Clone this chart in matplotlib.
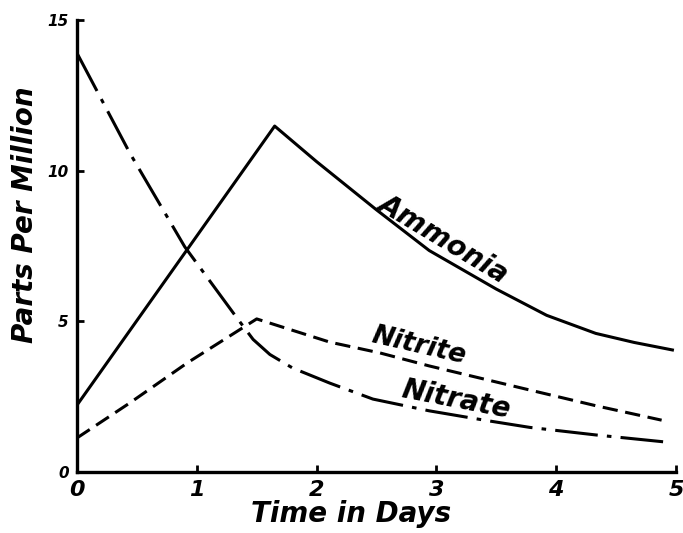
import matplotlib
matplotlib.use("Agg")
import matplotlib.pyplot as plt

# Data
ammonia_x = [0.0, 1.65, 2.0, 2.5, 2.94, 3.5, 3.92, 4.33, 4.65, 4.97]
ammonia_y = [2.22, 11.48, 10.3, 8.7, 7.35, 6.07, 5.2, 4.6, 4.3, 4.05]

nitrite_x = [0.0, 0.44, 0.92, 1.5, 2.11, 2.53, 2.94, 3.78, 4.33, 4.88]
nitrite_y = [1.13, 2.29, 3.62, 5.08, 4.31, 3.95, 3.52, 2.72, 2.2, 1.72]

nitrate_x = [0.0, 0.44, 0.9, 1.33, 1.47, 1.61, 1.8, 2.11, 2.47, 2.94, 3.4, 3.78, 4.33, 4.95]
nitrate_y = [13.9, 10.59, 7.47, 5.14, 4.4, 3.9, 3.45, 2.95, 2.42, 2.03, 1.72, 1.48, 1.23, 0.98]

x_ticks = [0, 1, 2, 3, 4, 5]
x_ticklabels = ["0", "1", "2", "3", "4", "5"]
y_ticks = [0, 5, 10, 15]
y_ticklabels = ["0", "5", "10", "15"]

FONT = dict(family="DejaVu Sans", weight="bold", style="italic")

fig = plt.figure(figsize=(6.83, 5.33), dpi=100)
W, H = 683, 533
left, right, bottom, top = 77, 676, 472, 20
ax = fig.add_axes([left / W, 1 - bottom / H, (right - left) / W, (bottom - top) / H])

lw = 2.2
ax.plot(ammonia_x, ammonia_y, color="black", lw=lw, solid_joinstyle="round")
ax.plot(nitrite_x, nitrite_y, color="black", lw=lw, dashes=(5, 2.5))
ax.plot(nitrate_x, nitrate_y, color="black", lw=lw, dashes=(14, 3, 1.5, 3))

ax.set_xlim(0, 5)
ax.set_ylim(0, 15)
for s in ["top", "right"]:
    ax.spines[s].set_visible(False)
for s in ["left", "bottom"]:
    ax.spines[s].set_linewidth(2.4)

ax.set_xticks(x_ticks)
ax.set_xticklabels(x_ticklabels, fontsize=16, **FONT)
ax.set_yticks(y_ticks)
ax.set_yticklabels(y_ticklabels, fontsize=11, **FONT)
ax.tick_params(axis="both", direction="in", length=5, width=2, pad=6)

ax.text(3.0, 7.35, "Ammonia", rotation=-31, rotation_mode="anchor",
        ha="center", va="bottom", fontsize=20, **FONT)
ax.text(2.83, 3.75, "Nitrite", rotation=-13, rotation_mode="anchor",
        ha="center", va="bottom", fontsize=19, **FONT)
ax.text(3.14, 1.95, "Nitrate", rotation=-11, rotation_mode="anchor",
        ha="center", va="bottom", fontsize=20, **FONT)

fig.text(351 / W, 1 - 514 / H, "Time in Days", ha="center", va="center", fontsize=20, **FONT)
fig.text(25 / W, 1 - 215 / H, "Parts Per Million", rotation=90, ha="center", va="center", fontsize=20, **FONT)

fig.savefig("out.png", dpi=100)
